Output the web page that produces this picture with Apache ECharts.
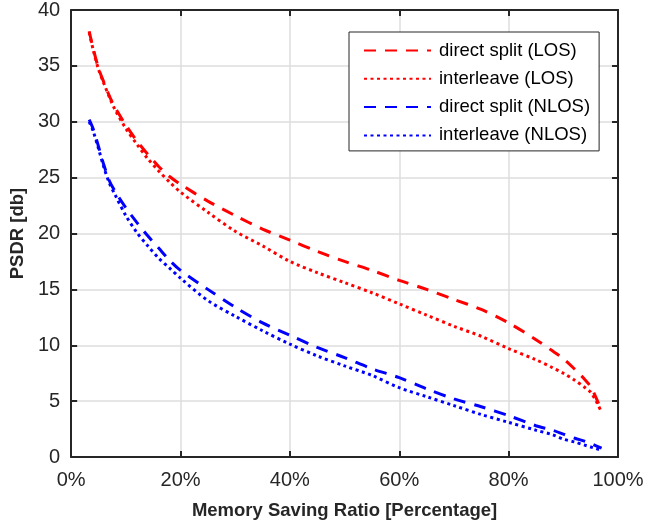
<!DOCTYPE html>
<html>
<head>
<meta charset="utf-8">
<script src="https://cdn.jsdelivr.net/npm/echarts@6/dist/echarts.min.js"></script>
<style>
  html, body { margin: 0; padding: 0; background: #fff; }
  #chart { width: 647px; height: 525px; }
</style>
</head>
<body>
<div id="chart"></div>
<script>
// Memory saving ratio (%) at which each PSDR value was sampled
const savingRatio = [3.3, 4, 5, 6, 7, 8, 10, 12, 14, 16, 18, 20, 25, 30, 35, 40, 45, 50, 55, 60, 65, 70, 75, 80, 85, 88, 90, 92, 94, 95, 96, 97];

// PSDR [db] for each scheme / channel condition
const directSplitLOS = [38.1, 36.6, 34.8, 33.5, 32.3, 31.3, 29.7, 28.3, 27.1, 26.0, 25.1, 24.4, 22.9, 21.6, 20.4, 19.4, 18.4, 17.5, 16.7, 15.8, 15.0, 14.1, 13.2, 12.0, 10.5, 9.5, 8.8, 7.9, 6.9, 6.3, 5.3, 4.1];
const interleaveLOS = [38.0, 36.5, 34.7, 33.4, 32.2, 31.1, 29.4, 28.0, 26.7, 25.6, 24.6, 23.7, 21.9, 20.2, 18.9, 17.5, 16.5, 15.6, 14.7, 13.7, 12.7, 11.7, 10.8, 9.7, 8.7, 8.0, 7.5, 6.9, 6.2, 5.8, 5.0, 4.0];
const directSplitNLOS = [30.2, 29.4, 27.8, 26.1, 24.7, 23.8, 22.3, 21.0, 19.8, 18.7, 17.6, 16.7, 15.0, 13.4, 12.0, 10.9, 9.8, 8.9, 7.9, 7.1, 6.1, 5.2, 4.5, 3.7, 2.8, 2.4, 2.05, 1.7, 1.4, 1.2, 1.0, 0.8];
const interleaveNLOS = [30.0, 29.2, 27.6, 25.9, 24.5, 23.5, 21.6, 20.1, 18.9, 17.8, 16.9, 16.0, 14.0, 12.6, 11.3, 10.1, 9.05, 8.15, 7.3, 6.2, 5.4, 4.6, 3.8, 3.1, 2.4, 2.0, 1.6, 1.35, 1.05, 0.9, 0.75, 0.6];

const seriesNames = ['direct split (LOS)', 'interleave (LOS)', 'direct split (NLOS)', 'interleave (NLOS)'];
const xTicks = { min: 0, max: 100, step: 20 };
const yTicks = { min: 0, max: 40, step: 5 };

const axisColor = '#262626';
const gridColor = '#dedede';
const font = 'Arial, "Liberation Sans", Helvetica, sans-serif';

const DASH = [12, 9];
const DOT = [3, 3.5];

function pairs(ys) { return savingRatio.map((x, i) => [x, ys[i]]); }

function lineSeries(name, ys, color, dash) {
  return {
    name: name,
    type: 'line',
    data: pairs(ys),
    smooth: 0.3,
    symbol: 'none',
    lineStyle: { color: color, width: 3, type: dash, cap: 'butt' },
    itemStyle: { color: color },
    z: 3
  };
}

const boxAxis = (show) => ({
  axisLine: { show: true, onZero: false, lineStyle: { color: axisColor, width: 2 } },
  axisTick: { show: true, inside: true, length: 6, lineStyle: { color: axisColor, width: 2 } },
  splitLine: { show: show, lineStyle: { color: gridColor, width: 1.5 } }
});

const chart = echarts.init(document.getElementById('chart'), null, { renderer: 'canvas' });
chart.setOption({
  animation: false,
  backgroundColor: '#ffffff',
  grid: { left: 71, right: 29, top: 10, bottom: 68, containLabel: false },
  legend: {
    orient: 'vertical',
    left: 349,
    top: 32,
    data: seriesNames,
    itemWidth: 67,
    itemHeight: 18,
    itemGap: 9.3,
    padding: [9, 9, 6, 14],
    backgroundColor: '#ffffff',
    borderColor: axisColor,
    borderWidth: 1,
    borderRadius: 0,
    itemStyle: { opacity: 0 },
    textStyle: { fontFamily: font, fontSize: 18.5, color: '#000', padding: [0, 0, 0, 3] }
  },
  xAxis: [
    Object.assign({
      type: 'value', min: xTicks.min, max: xTicks.max, interval: xTicks.step,
      name: 'Memory Saving Ratio [Percentage]',
      nameLocation: 'middle', nameGap: 44,
      nameTextStyle: { fontFamily: font, fontSize: 18.5, fontWeight: 'bold', color: axisColor },
      axisLabel: { formatter: '{value}%', margin: 13, fontFamily: font, fontSize: 20, color: axisColor }
    }, boxAxis(true)),
    Object.assign({
      type: 'value', position: 'top', min: xTicks.min, max: xTicks.max, interval: xTicks.step,
      axisLabel: { show: false }
    }, boxAxis(false))
  ],
  yAxis: [
    Object.assign({
      type: 'value', min: yTicks.min, max: yTicks.max, interval: yTicks.step,
      name: 'PSDR [db]',
      nameLocation: 'middle', nameGap: 40,
      nameTextStyle: { fontFamily: font, fontSize: 18.5, fontWeight: 'bold', color: axisColor },
      axisLabel: { margin: 11, fontFamily: font, fontSize: 20, color: axisColor }
    }, boxAxis(true)),
    Object.assign({
      type: 'value', position: 'right', min: yTicks.min, max: yTicks.max, interval: yTicks.step,
      axisLabel: { show: false }
    }, boxAxis(false))
  ],
  series: [
    lineSeries(seriesNames[0], directSplitLOS, '#ff0000', DASH),
    lineSeries(seriesNames[1], interleaveLOS, '#ff0000', DOT),
    lineSeries(seriesNames[2], directSplitNLOS, '#0000ff', DASH),
    lineSeries(seriesNames[3], interleaveNLOS, '#0000ff', DOT)
  ]
});
</script>
</body>
</html>
